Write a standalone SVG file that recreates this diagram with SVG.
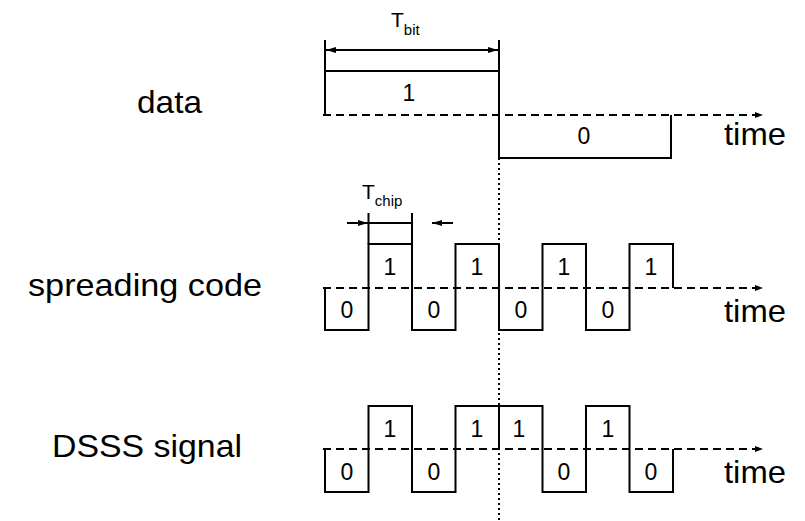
<svg xmlns="http://www.w3.org/2000/svg" width="805" height="521" viewBox="0 0 805 521">
  <defs>
    <marker id="head" viewBox="0 0 10 6" refX="10" refY="3" markerWidth="10" markerHeight="6" markerUnits="userSpaceOnUse" orient="auto-start-reverse">
      <path d="M0,0 L10,3 L0,6 z" fill="#000"/>
    </marker>
    <marker id="axisHead" viewBox="0 0 8 6" refX="8" refY="3" markerWidth="8" markerHeight="6" markerUnits="userSpaceOnUse" orient="auto">
      <path d="M0,0 L8,3 L0,6 z" fill="#000"/>
    </marker>
  </defs>
  <style>
    .wave { fill: none; stroke: #000; stroke-width: 2; stroke-linejoin: miter; }
    .axis { fill: none; stroke: #000; stroke-width: 2; stroke-dasharray: 8 5; }
    .dim { fill: none; stroke: #000; stroke-width: 2; }
    .dot { fill: none; stroke: #000; stroke-width: 2; stroke-dasharray: 2 3; }
    .label { font-family: "Liberation Sans", Arial, sans-serif; font-size: 32px; fill: #000; }
    .bit { font-family: "Liberation Sans", Arial, sans-serif; font-size: 23px; fill: #000; text-anchor: middle; }
    .sym { font-family: "Liberation Sans", Arial, sans-serif; fill: #000; }
  </style>

  <!-- row labels -->
  <g id="row-labels">
    <text class="label" x="137" y="113" textLength="65" lengthAdjust="spacingAndGlyphs">data</text>
    <text class="label" x="28" y="296" textLength="234" lengthAdjust="spacingAndGlyphs">spreading code</text>
    <text class="label" x="52" y="457" textLength="190" lengthAdjust="spacingAndGlyphs">DSSS signal</text>
  </g>

  <!-- time axes -->
  <g id="axes">
    <line class="axis" x1="323" y1="115" x2="763" y2="115" marker-end="url(#axisHead)"/>
    <line class="axis" x1="323" y1="288" x2="763" y2="288" marker-end="url(#axisHead)"/>
    <line class="axis" x1="323" y1="449" x2="763" y2="449" marker-end="url(#axisHead)"/>
    <text class="label" x="724" y="145" textLength="62" lengthAdjust="spacingAndGlyphs">time</text>
    <text class="label" x="724" y="322" textLength="62" lengthAdjust="spacingAndGlyphs">time</text>
    <text class="label" x="724" y="483" textLength="62" lengthAdjust="spacingAndGlyphs">time</text>
  </g>

  <!-- bit boundary marker -->
  <g id="boundary">
    <line class="dot" x1="499" y1="158" x2="499" y2="521"/>
  </g>

  <!-- data waveform with bit period dimension -->
  <g id="data">
    <path class="wave" d="M325,40 V115 M325,71 H499 M499,40 V158 H671 V115"/>
    <line class="dim" x1="326" y1="50" x2="498" y2="50" marker-start="url(#head)" marker-end="url(#head)"/>
    <text class="sym" x="391" y="27" font-size="21">T<tspan font-size="15" dy="8">bit</tspan></text>
    <text class="bit" x="409" y="101">1</text>
    <text class="bit" x="584" y="144">0</text>
  </g>

  <!-- spreading code waveform with chip period dimension -->
  <g id="spreading-code">
    <path class="wave" d="M325,288 V330 H368.5 V244 H412 V330 H455.5 V244 H499 V330 H542.5 V244 H586 V330 H629.5 V244 H673 V288"/>
    <path class="dim" d="M368.5,244 V213 M412,244 V213 M368.5,223 H412"/>
    <line class="dim" x1="347" y1="223" x2="368" y2="223" marker-end="url(#head)"/>
    <line class="dim" x1="453" y1="223" x2="432" y2="223" marker-end="url(#head)"/>
    <text class="sym" x="362" y="199" font-size="21">T<tspan font-size="15" dy="7">chip</tspan></text>
    <text class="bit" x="347" y="318">0</text>
    <text class="bit" x="390" y="275">1</text>
    <text class="bit" x="434" y="318">0</text>
    <text class="bit" x="477" y="275">1</text>
    <text class="bit" x="521" y="318">0</text>
    <text class="bit" x="564" y="275">1</text>
    <text class="bit" x="608" y="318">0</text>
    <text class="bit" x="651" y="275">1</text>
  </g>

  <!-- DSSS signal waveform -->
  <g id="dsss-signal">
    <path class="wave" d="M325,449 V492 H368.5 V406 H412 V492 H455.5 V406 H542.5 V492 H586 V406 H629.5 V492 H673 V449 M499,406 V449"/>
    <text class="bit" x="347" y="480">0</text>
    <text class="bit" x="390" y="437">1</text>
    <text class="bit" x="434" y="480">0</text>
    <text class="bit" x="477" y="437">1</text>
    <text class="bit" x="519" y="437">1</text>
    <text class="bit" x="564" y="480">0</text>
    <text class="bit" x="608" y="437">1</text>
    <text class="bit" x="651" y="480">0</text>
  </g>
</svg>
